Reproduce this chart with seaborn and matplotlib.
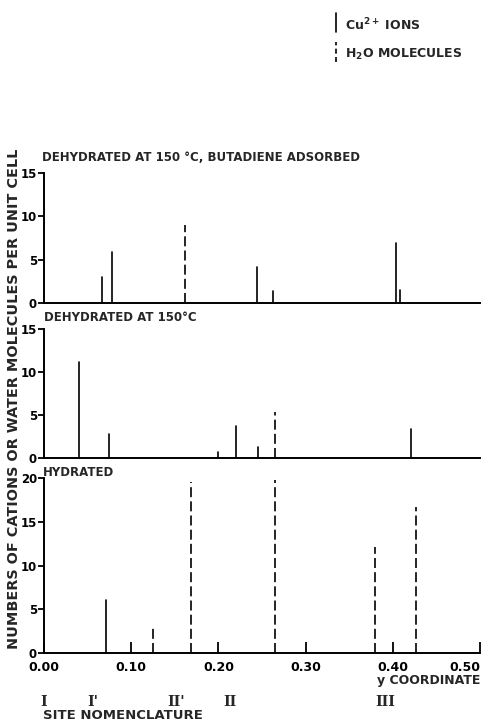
import seaborn as sns
import matplotlib.pyplot as plt
import matplotlib.transforms as mtransforms
from matplotlib.lines import Line2D
import pandas as pd

# y coordinate of each site and number per unit cell
# panel 1: dehydrated at 150 C, butadiene adsorbed
bd_cu_y = [0.067, 0.078, 0.244, 0.263, 0.403, 0.408]
bd_cu_n = [3.0, 5.9, 4.2, 1.35, 6.9, 1.5]
bd_h2o_y = [0.162]
bd_h2o_n = [9.0]

# panel 2: dehydrated at 150 C
dh_cu_y = [0.040, 0.075, 0.199, 0.220, 0.245, 0.421]
dh_cu_n = [11.2, 2.8, 0.75, 3.7, 1.25, 3.4]
dh_h2o_y = [0.265]
dh_h2o_n = [5.3]

# panel 3: hydrated
hy_cu_y = [0.071]
hy_cu_n = [6.1]
hy_h2o_y = [0.125, 0.169, 0.265, 0.380, 0.426]
hy_h2o_n = [3.1, 19.5, 19.8, 12.1, 16.7]

panel_titles = ['DEHYDRATED AT 150 °C, BUTADIENE ADSORBED',
                'DEHYDRATED AT 150°C',
                'HYDRATED']
panel_ymax = [15, 15, 20]

x_ticks = [0.0, 0.1, 0.2, 0.3, 0.4, 0.5]
site_names = ['I', "I'", "II'", 'II', 'III']
site_pos = [0.0, 0.056, 0.152, 0.213, 0.391]


def stick_frame(cu_y, cu_n, h2o_y, h2o_n):
    # each stick is a little two-point line from 0 up to its count
    rows = []
    k = 0
    for kind, ys, ns in [('Cu', cu_y, cu_n), ('H2O', h2o_y, h2o_n)]:
        for y, n in zip(ys, ns):
            rows.append({'y': y, 'n': 0.0, 'id': k, 'kind': kind})
            rows.append({'y': y, 'n': n, 'id': k, 'kind': kind})
            k += 1
    return pd.DataFrame(rows)


sns.set_theme(style='ticks')
plt.rcParams['font.family'] = ['DejaVu Sans']
plt.rcParams['font.weight'] = 'bold'

fig = plt.figure(figsize=(4.94, 7.24), dpi=100)
ax1 = fig.add_axes([0.089, 0.5815, 0.883, 0.1795])
ax2 = fig.add_axes([0.089, 0.3674, 0.883, 0.1782])
ax3 = fig.add_axes([0.089, 0.098, 0.883, 0.2417])
axes = [ax1, ax2, ax3]

frames = [stick_frame(bd_cu_y, bd_cu_n, bd_h2o_y, bd_h2o_n),
          stick_frame(dh_cu_y, dh_cu_n, dh_h2o_y, dh_h2o_n),
          stick_frame(hy_cu_y, hy_cu_n, hy_h2o_y, hy_h2o_n)]

title_pos = [(0.085, 0.783), (0.089, 0.562), (0.087, 0.3467)]

for ax, df, ymax, title, tp in zip(axes, frames, panel_ymax, panel_titles, title_pos):
    sns.lineplot(data=df, x='y', y='n', units='id', style='kind',
                 style_order=['Cu', 'H2O'], estimator=None, sort=False,
                 dashes={'Cu': '', 'H2O': (6, 2.5)}, color='black',
                 linewidth=1.2, legend=False, ax=ax)
    ax.set_xlim(0, 0.5)
    ax.set_ylim(0, ymax)
    ax.set_yticks(range(0, ymax + 1, 5))
    ax.set_xlabel('')
    ax.set_ylabel('')
    ax.patch.set_alpha(0)
    sns.despine(ax=ax)
    for s in ['left', 'bottom']:
        ax.spines[s].set_linewidth(1.4)
        ax.spines[s].set_color('black')
    ax.tick_params(axis='y', direction='out', length=4, width=1.3,
                   pad=1, labelsize=8.5, colors='black')
    fig.text(tp[0], tp[1], title, fontsize=8.5, fontweight='bold',
             ha='left', va='center')

for ax in [ax1, ax2]:
    ax.tick_params(axis='x', length=0, labelbottom=False)

ax3.set_xticks(x_ticks)
ax3.set_xticklabels(['%.2f' % t for t in x_ticks])
ax3.tick_params(axis='x', direction='in', length=8, width=1.3,
                pad=6, labelsize=9, colors='black')
# the last label is pulled in so it stays inside the page
ax3.get_xticklabels()[-1].set_ha('right')
ax3.get_xticklabels()[-1].set_x(0.503)

fig.text(0.972, 0.060, 'y COORDINATE', fontsize=9, fontweight='bold',
         ha='right', va='center')

# site nomenclature under the y coordinate axis
trans = mtransforms.blended_transform_factory(ax3.transData, fig.transFigure)
for name, pos in zip(site_names, site_pos):
    ax3.text(pos, 0.0304, name, transform=trans, ha='center', va='center',
             fontsize=10, fontweight='bold', family='DejaVu Serif')
fig.text(0.087, 0.0124, 'SITE NOMENCLATURE', fontsize=9.5,
         fontweight='bold', ha='left', va='center')

fig.text(0.029, 0.449, 'NUMBERS OF CATIONS OR WATER MOLECULES PER UNIT CELL',
         rotation=90, ha='center', va='center', fontsize=10.4,
         fontweight='bold')

# legend drawn as vertical keys, as in the original
fig.add_artist(Line2D([0.680, 0.680], [0.956, 0.982], color='black',
                      linewidth=1.2, transform=fig.transFigure))
fig.add_artist(Line2D([0.680, 0.680], [0.914, 0.942], color='black',
                      linewidth=1.2, linestyle=(0, (3, 2)),
                      transform=fig.transFigure))
fig.text(0.698, 0.9655, 'Cu$^{\\mathbf{2+}}$ IONS', fontsize=9,
         fontweight='bold', ha='left', va='center')
fig.text(0.698, 0.925, 'H$_{\\mathbf{2}}$O MOLECULES', fontsize=9,
         fontweight='bold', ha='left', va='center')

fig.savefig('out.png', dpi=100)
